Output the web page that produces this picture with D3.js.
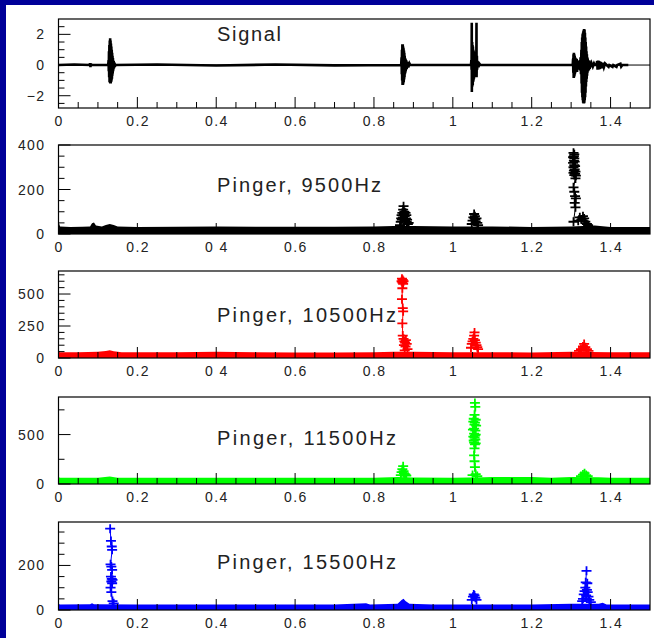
<!DOCTYPE html>
<html><head><meta charset="utf-8">
<script src="https://cdn.jsdelivr.net/npm/d3@7"></script>
<style>html,body{margin:0;padding:0;background:#fff;overflow:hidden}</style>
</head><body>
<svg id="c" width="654" height="638"></svg>
<script>
// ---------------- data ----------------
const xMajor = [0, 0.2, 0.4, 0.6, 0.8, 1.0, 1.2, 1.4];
const xLabels = ["0", "0.2", "0.4", "0.6", "0.8", "1", "1.2", "1.4"];
const xLabelsAlt = ["0", "0.2", "0 4", "0.6", "0.8", "1", "1.2", "1.4"];
const xMinor = [0.05,0.1,0.15,0.25,0.3,0.35,0.45,0.5,0.55,0.65,0.7,0.75,0.85,0.9,0.95,1.05,1.1,1.15,1.25,1.3,1.35,1.45];

const titles = ["Signal", "Pinger, 9500Hz", "Pinger, 10500Hz", "Pinger, 11500Hz", "Pinger, 15500Hz"];
const yDomains = [[-2.8, 3.0], [0, 400], [0, 680], [0, 880], [0, 395]];
const yMajor = [[-2, 0, 2], [0, 200, 400], [0, 250, 500], [0, 500], [0, 200]];
const yLabels = [["\u22122", "0", "2"], ["0", "200", "400"], ["0", "250", "500"], ["0", "500"], ["0", "200"]];
const yMinor = [[-2.5,-1.5,-1,-0.5,0.5,1,1.5,2.5], [50,100,150,250,300,350], [50,100,150,200,300,350,400,450,550,600,650], [250,750], [50,100,150,250,300,350]];

// Signal trace [time (s), amplitude]
const signal = [
 [0,0],[0.04,0.03],[0.079,0],[0.080,0.12],[0.081,-0.14],[0.082,0.1],[0.083,0],
 [0.126,0],[0.127,0.3],[0.1275,-0.4],[0.128,0.9],[0.1285,-0.8],[0.129,1.3],[0.1295,-1.1],[0.130,1.6],[0.1305,-1.15],
 [0.131,1.75],[0.1315,-1.2],[0.132,1.6],[0.1325,-1.2],[0.133,1.4],[0.1335,-1.1],[0.134,1.2],[0.1345,-1.0],[0.135,1.0],
 [0.1355,-0.9],[0.136,0.8],[0.1365,-0.7],[0.137,0.6],[0.1375,-0.55],[0.138,0.45],[0.1385,-0.4],[0.139,0.3],[0.1395,-0.3],
 [0.140,0.25],[0.141,-0.2],[0.142,0.15],[0.143,-0.1],[0.144,0],
 [0.25,0.03],[0.4,-0.03],[0.55,0.03],[0.7,-0.02],[0.869,0],
 [0.870,0.5],[0.8705,-0.6],[0.871,1.0],[0.8715,-1.0],[0.872,1.35],[0.8725,-1.3],[0.873,1.35],[0.8735,-1.3],[0.874,1.2],
 [0.8745,-1.2],[0.875,1.1],[0.8755,-1.1],[0.876,0.95],[0.8765,-0.95],[0.877,0.8],[0.8775,-0.8],[0.878,0.6],[0.8785,-0.6],
 [0.879,0.45],[0.8795,-0.5],[0.880,0.4],[0.8805,-0.4],[0.881,0.3],[0.8815,-0.3],[0.882,0.3],[0.883,-0.25],[0.885,0.2],
 [0.887,-0.15],[0.890,0.1],[0.892,0],
 [1.046,0],[1.047,0.3],[1.0475,-0.3],[1.048,2.75],[1.0482,-1.75],[1.049,1.5],[1.0495,-1.4],[1.050,1.3],[1.0505,-1.3],
 [1.051,1.2],[1.0515,-1.1],[1.052,1.0],[1.0525,-1.0],[1.053,0.9],[1.0535,-0.9],[1.054,0.8],[1.0545,-0.8],[1.055,0.7],
 [1.0555,-0.7],[1.056,0.6],[1.0565,-0.6],[1.057,0.5],[1.0575,-0.5],[1.058,0.45],[1.0585,-0.45],[1.059,0.4],[1.0595,-0.4],
 [1.060,2.75],[1.0602,-0.8],[1.061,0.6],[1.0615,-0.3],[1.063,0.2],[1.065,-0.15],[1.067,0.1],[1.07,0],
 [1.304,0],[1.305,0.4],[1.3055,-0.5],[1.306,0.7],[1.3065,-0.85],[1.307,0.8],[1.3075,-0.8],[1.308,0.7],[1.3085,-0.7],
 [1.309,0.6],[1.3095,-0.6],[1.310,0.5],[1.3105,-0.5],[1.311,0.45],[1.3115,-0.4],[1.312,0.35],[1.313,-0.3],[1.314,0.4],
 [1.315,-0.45],[1.316,0.3],[1.317,-0.3],[1.318,0.25],[1.319,-0.2],[1.320,0.2],[1.321,-0.25],[1.322,0.3],[1.323,-0.35],
 [1.324,0.5],[1.325,-0.6],[1.326,1.0],[1.3265,-1.2],[1.327,1.5],[1.3275,-1.8],[1.328,1.8],[1.3285,-2.1],[1.329,2.0],
 [1.3295,-2.3],[1.330,2.1],[1.3305,-2.45],[1.331,2.2],[1.3315,-2.5],[1.332,2.3],[1.3325,-2.5],[1.333,2.35],[1.3335,-2.45],
 [1.334,2.3],[1.3345,-2.3],[1.335,2.1],[1.3355,-2.1],[1.336,1.8],[1.3365,-1.8],[1.337,1.5],[1.3375,-1.4],[1.338,1.2],
 [1.3385,-1.1],[1.339,0.9],[1.3395,-0.9],[1.340,0.7],[1.3405,-0.7],[1.341,0.5],[1.3415,-0.5],[1.342,0.4],[1.343,-0.4],
 [1.344,0.3],[1.345,-0.35],[1.346,0.3],[1.347,-0.25],[1.348,0.2],[1.350,-0.15],[1.352,0.1],[1.355,-0.1],[1.358,0.1],[1.36,0],
 [1.364,0],[1.366,0.25],[1.367,-0.3],[1.368,0.3],[1.369,-0.3],[1.370,0.28],[1.371,-0.28],[1.372,0.25],[1.373,-0.25],
 [1.375,0.2],[1.377,-0.2],[1.380,0.15],[1.383,-0.15],[1.386,0.1],[1.39,0],[1.395,-0.12],[1.397,0],[1.405,-0.12],[1.407,0],
 [1.415,-0.12],[1.417,0],[1.425,0.08],[1.427,-0.1],[1.43,0],[1.445,0]
];

// Pinger amplitude: noise floor [time, amplitude]
const base9500 = [[0,55],[0.004,34],[0.03,32],[0.06,33],[0.08,34],[0.085,48],[0.09,52],[0.095,38],[0.11,34],[0.12,40],[0.13,45],[0.14,40],[0.15,34],[0.2,32],[0.3,33],[0.4,34],[0.5,33],[0.6,33],[0.7,33],[0.8,34],[0.85,36],[0.9,36],[1.0,34],[1.1,34],[1.2,32],[1.3,34],[1.36,38],[1.4,32],[1.5,32]];
const base10500 = [[0,70],[0.003,45],[0.05,44],[0.1,48],[0.12,55],[0.13,60],[0.14,52],[0.16,45],[0.2,45],[0.3,44],[0.4,48],[0.5,45],[0.6,43],[0.7,43],[0.8,45],[0.85,48],[0.9,48],[1.0,44],[1.1,45],[1.2,43],[1.3,48],[1.4,44],[1.5,44]];
const base11500 = [[0,75],[0.003,62],[0.05,62],[0.1,64],[0.13,75],[0.15,64],[0.2,62],[0.3,62],[0.4,62],[0.5,62],[0.6,62],[0.7,62],[0.8,64],[0.86,70],[0.9,66],[1.0,62],[1.08,68],[1.1,72],[1.2,70],[1.25,64],[1.3,70],[1.37,68],[1.4,62],[1.5,62]];
const base15500 = [[0,30],[0.003,25],[0.08,26],[0.085,30],[0.09,26],[0.2,25],[0.3,25],[0.4,25],[0.5,25],[0.6,25],[0.7,25],[0.78,30],[0.79,25],[0.86,28],[0.87,45],[0.875,50],[0.88,40],[0.89,28],[0.95,25],[1.0,25],[1.1,25],[1.2,25],[1.3,28],[1.37,28],[1.38,32],[1.39,25],[1.5,25]];

// Pinger amplitude: marker clusters above the floor, one list per ping [time, amplitude]
const marks9500 = [
 [[0.875,125],[0.874,110],[0.877,100],[0.872,95],[0.880,95],[0.876,90],[0.870,85],[0.882,85],[0.878,80],[0.873,75],[0.869,70],[0.881,70],[0.871,65],[0.884,65],[0.879,60],[0.868,55],[0.883,55],[0.888,50],[0.886,45],[0.866,40]],
 [[1.054,90],[1.056,80],[1.052,75],[1.055,70],[1.060,70],[1.057,65],[1.050,60],[1.058,55],[1.062,50],[1.048,45],[1.064,40]],
 [[1.306,365],[1.308,358],[1.307,350],[1.305,345],[1.308,340],[1.307,330],[1.309,325],[1.305,320],[1.308,310],[1.310,305],[1.306,300],[1.309,290],[1.307,285],[1.311,280],[1.306,275],[1.310,270],[1.308,265],[1.312,262],[1.311,250],[1.306,210],[1.308,190],[1.310,170],[1.312,160],[1.309,140],[1.311,120],[1.306,55]],
 [[1.330,80],[1.322,75],[1.333,70],[1.326,65],[1.318,60],[1.336,55],[1.340,45],[1.343,40]]
];
const marks10500 = [
 [[0.871,620],[0.873,610],[0.870,600],[0.875,600],[0.872,590],[0.874,580],[0.872,545],[0.871,460],[0.873,390],[0.874,365],[0.872,270],[0.873,175],[0.875,150],[0.881,140],[0.877,130],[0.879,120],[0.883,110],[0.876,100],[0.880,90],[0.885,70],[0.878,60]],
 [[1.055,200],[1.054,175],[1.052,150],[1.056,140],[1.050,130],[1.058,120],[1.048,110],[1.060,100],[1.062,85],[1.046,80],[1.064,70]],
 [[1.333,110],[1.330,90],[1.336,85],[1.325,70],[1.340,70],[1.320,55],[1.344,55]]
];
const marks11500 = [
 [[0.874,180],[0.872,150],[0.875,130],[0.870,120],[0.876,110],[0.878,100],[0.880,95],[0.868,90],[0.882,85]],
 [[1.056,820],[1.057,780],[1.055,700],[1.053,660],[1.058,650],[1.052,630],[1.056,620],[1.055,600],[1.059,590],[1.054,560],[1.051,550],[1.057,540],[1.054,510],[1.058,500],[1.056,490],[1.052,480],[1.055,470],[1.057,450],[1.053,440],[1.054,420],[1.058,410],[1.056,400],[1.055,360],[1.054,290],[1.055,230],[1.056,170],[1.058,100],[1.050,90],[1.062,80]],
 [[1.334,110],[1.330,95],[1.338,90],[1.325,80],[1.342,80]]
];
const marks15500 = [
 [[0.131,365],[0.133,310],[0.135,285],[0.136,270],[0.132,205],[0.134,195],[0.136,180],[0.133,150],[0.135,140],[0.137,135],[0.134,128],[0.136,120],[0.132,100],[0.134,80],[0.137,40],[0.140,30]],
 [[1.053,70],[1.055,65],[1.051,60],[1.057,55],[1.048,45],[1.060,45]],
 [[1.339,176],[1.337,124],[1.341,120],[1.336,100],[1.340,90],[1.334,85],[1.342,80],[1.332,70],[1.338,65],[1.344,60],[1.330,50],[1.346,45],[1.328,40],[1.350,35]]
];

const pingerBase = [null, base9500, base10500, base11500, base15500];
const pingerMarks = [null, marks9500, marks10500, marks11500, marks15500];

// ---------------- layout / style ----------------
const W = 654, H = 638;
const colors = ["#000", "#000", "#ff0000", "#00ff00", "#0000ff"];
const panelTop = [19, 145, 271, 397, 522];
const panelBottom = [108, 234, 358, 484, 610];
const titleBaseline = [41, 192, 322, 445, 569];
const titleLen = [64, 164, 179, 179, 179];
const left = 58.5, right = 650;

const svg = d3.select("#c");
svg.append("rect").attr("width", W).attr("height", H).attr("fill", "#000099");
svg.append("rect").attr("x", 6).attr("y", 5).attr("width", W - 6).attr("height", H - 5).attr("fill", "#fff");

const x = d3.scaleLinear().domain([0, 1.5]).range([left, right]);
const fontTick = "'Liberation Sans', Arial, sans-serif";

titles.forEach((title, i) => {
  const g = svg.append("g");
  const y = d3.scaleLinear().domain(yDomains[i]).range([panelBottom[i], panelTop[i]]);
  const col = colors[i];
  const clipId = "clip" + i;
  g.append("clipPath").attr("id", clipId).append("rect")
    .attr("x", left).attr("y", panelTop[i]).attr("width", right - left).attr("height", panelBottom[i] - panelTop[i]);
  const data = g.append("g").attr("clip-path", `url(#${clipId})`);

  if (i === 0) {
    data.append("line").attr("x1", x(0)).attr("x2", x(1.5)).attr("y1", y(0)).attr("y2", y(0))
      .attr("stroke", "#000").attr("stroke-width", 1);
    data.append("path").datum(signal)
      .attr("d", d3.line().x(d => x(d[0])).y(d => y(d[1])))
      .attr("fill", "none").attr("stroke", "#000").attr("stroke-width", 2.6).attr("stroke-linejoin", "miter");
  } else {
    const base = pingerBase[i], clusters = pingerMarks[i];
    data.append("path").datum(base)
      .attr("d", d3.area().x(d => x(d[0])).y0(y(0)).y1(d => y(d[1])))
      .attr("fill", col);
    clusters.forEach(cl => {
      data.append("path").datum(cl)
        .attr("d", d3.line().x(d => x(d[0])).y(d => y(d[1])))
        .attr("fill", "none").attr("stroke", col).attr("stroke-width", 1);
      data.append("g").selectAll("path").data(cl).join("path")
        .attr("d", d => { const px = x(d[0]), py = y(d[1]); return `M${px - 5},${py}h10M${px},${py - 4.5}v9`; })
        .attr("stroke", col).attr("stroke-width", 1.8).attr("fill", "none");
    });
  }

  // frame
  g.append("rect").attr("x", left).attr("y", panelTop[i]).attr("width", right - left)
    .attr("height", panelBottom[i] - panelTop[i]).attr("fill", "none").attr("stroke", "#000").attr("stroke-width", 1.2);

  // x ticks
  const yb = panelBottom[i];
  g.selectAll("line.xM").data(xMajor.filter(v => v > 0)).join("line")
    .attr("x1", d => x(d)).attr("x2", d => x(d)).attr("y1", yb).attr("y2", yb - 11)
    .attr("stroke", "#000").attr("stroke-width", 1);
  g.selectAll("line.xm").data(xMinor).join("line")
    .attr("x1", d => x(d)).attr("x2", d => x(d)).attr("y1", yb).attr("y2", yb - 6)
    .attr("stroke", "#000").attr("stroke-width", 1);
  const labs = (i === 1 || i === 2) ? xLabelsAlt : xLabels;
  g.selectAll("text.xl").data(xMajor).join("text")
    .attr("x", (d) => x(d) + 0.7).attr("y", yb + 18)
    .attr("text-anchor", "middle").attr("font-family", fontTick).attr("font-size", 14)
    .attr("letter-spacing", 1.4).attr("fill", "#222")
    .text((d, k) => labs[k]);

  // y ticks
  g.selectAll("line.yM").data(yMajor[i]).join("line")
    .attr("x1", left).attr("x2", left + 12).attr("y1", d => y(d)).attr("y2", d => y(d))
    .attr("stroke", "#000").attr("stroke-width", 1);
  g.selectAll("line.ym").data(yMinor[i]).join("line")
    .attr("x1", left).attr("x2", left + 6).attr("y1", d => y(d)).attr("y2", d => y(d))
    .attr("stroke", "#000").attr("stroke-width", 1);
  g.selectAll("text.yl").data(yMajor[i]).join("text")
    .attr("x", 45.5).attr("y", d => y(d) + 5)
    .attr("text-anchor", "end").attr("font-family", fontTick).attr("font-size", 14)
    .attr("letter-spacing", 1.4).attr("fill", "#222")
    .text((d, k) => yLabels[i][k]);

  // title
  g.append("text").attr("x", 217).attr("y", titleBaseline[i])
    .attr("font-family", fontTick).attr("font-size", 20).attr("fill", "#222")
    .attr("textLength", titleLen[i]).attr("lengthAdjust", "spacing")
    .text(title);
});
</script>
</body></html>
